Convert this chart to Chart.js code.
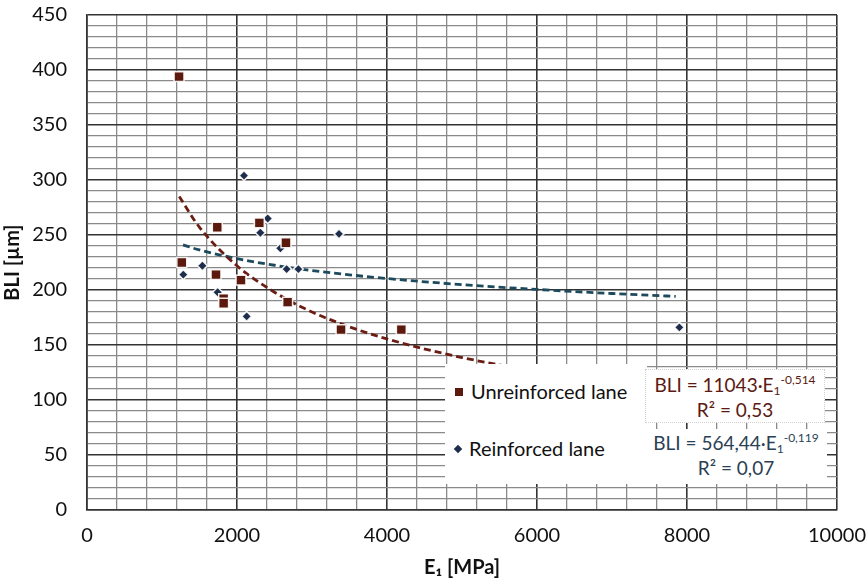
<!DOCTYPE html>
<html>
<head>
<meta charset="utf-8">
<script src="https://cdn.jsdelivr.net/npm/chart.js@4"></script>
<style>
    body { margin: 0; background: #fff; }
    #wrap { position: relative; width: 868px; height: 584px; font-family: Lato, "Open Sans", sans-serif; }
    #chart { position: absolute; left: 0; top: 0; }
    .box { position: absolute; background: #fff; }
    .leg { position: absolute; left: 10px; font-size: 20px; color: #111; white-space: nowrap; }
    .mk { display: inline-block; vertical-align: middle; margin-right: 8px; position: relative; top: -2px; }
    .eq { text-align: center; font-size: 19px; line-height: 25px; white-space: nowrap; }
    .eq sub { font-size: 12px; vertical-align: -3px; line-height: 0; }
    .eq sup { font-size: 12px; vertical-align: 8px; line-height: 0; }
</style>
</head>
<body>
<div id="wrap">
    <canvas id="chart" width="868" height="584"></canvas>

    <div class="box" style="left:445px; top:364px; width:202px; height:120px;">
        <div class="leg" style="top:15px;"><span class="mk" style="width:8px;height:8px;background:#5c1a0e;"></span>Unreinforced lane</div>
        <div class="leg" style="top:72px;"><span class="mk" style="width:6px;height:6px;background:#1e2d4b;transform:rotate(45deg);"></span>Reinforced lane</div>
    </div>
    <div class="box eq" style="left:645px; top:369px; width:180px; height:54px; color:#5c1a12; border:1px dotted #d0d0d0; box-sizing:border-box; padding-top:2px;">
        BLI = 11043·E<sub>1</sub><sup>-0,514</sup><br>R² = 0,53
    </div>
    <div class="box eq" style="left:645px; top:429px; width:182px; height:55px; color:#2b3f55; padding-top:1px; box-sizing:border-box;">
        BLI = 564,44·E<sub>1</sub><sup>-0,119</sup><br>R² = 0,07
    </div>
</div>

<script>
// measured points (E1 in MPa, BLI in µm)
const unreinforcedE1 = [1227, 1264, 1737, 2298, 2653, 1720, 2053, 1822, 1822, 2675, 3387, 4191];
const unreinforcedBLI = [394, 225, 257, 261, 243, 214, 209, 192, 188, 189, 164, 164];

const reinforcedE1 = [2093, 2409, 2311, 3360, 2578, 1538, 1284, 2662, 2818, 1742, 2129, 7898];
const reinforcedBLI = [304, 265, 252, 251, 238, 222, 214, 219, 219, 198, 176, 166];

// power trend lines
const trendUnrE1 = [1230, 1500, 2000, 2500, 3000, 3500, 4000, 5000, 6000, 7000, 7900];
const trendUnrBLI = [285, 257, 222, 198, 180, 166.5, 155.5, 138.6, 126.2, 116.6, 109.6];
const trendReiE1 = [1280, 1500, 2000, 2500, 3000, 3500, 4000, 5000, 6000, 7000, 7850];
const trendReiBLI = [241, 236.4, 228.5, 222.5, 217.7, 213.8, 210.4, 204.9, 200.5, 196.8, 194.2];

const xTickLabels = [0, 2000, 4000, 6000, 8000, 10000];
const yTickLabels = [0, 50, 100, 150, 200, 250, 300, 350, 400, 450];

const UNR_COLOR = "#5c1a0e";
const REI_COLOR = "#1e2d4b";

function toPoints(xs, ys) {
    return xs.map((x, i) => ({ x: x, y: ys[i] }));
}

function isMajor(value, list) {
    return list.includes(Math.round(value));
}

const tickFont = { family: "Lato", size: 20 };
const titleFont = { family: "Lato", size: 20, weight: "bold" };

new Chart(document.getElementById("chart"), {
    type: "scatter",
    data: {
        datasets: [
            {
                label: "Unreinforced trend",
                type: "line",
                data: toPoints(trendUnrE1, trendUnrBLI),
                borderColor: "#6b1d14",
                borderWidth: 2.8,
                borderDash: [7, 4],
                pointRadius: 0,
                cubicInterpolationMode: "monotone",
                order: 3
            },
            {
                label: "Reinforced trend",
                type: "line",
                data: toPoints(trendReiE1, trendReiBLI),
                borderColor: "#1d4a5c",
                borderWidth: 2.8,
                borderDash: [7, 4],
                pointRadius: 0,
                cubicInterpolationMode: "monotone",
                order: 3
            },
            {
                label: "Unreinforced lane",
                data: toPoints(unreinforcedE1, unreinforcedBLI),
                pointStyle: "rect",
                pointRadius: 7,
                backgroundColor: UNR_COLOR,
                borderColor: "rgba(255,255,255,0.9)",
                borderWidth: 1.5,
                order: 1
            },
            {
                label: "Reinforced lane",
                data: toPoints(reinforcedE1, reinforcedBLI),
                pointStyle: "rectRot",
                pointRadius: 5,
                backgroundColor: REI_COLOR,
                borderColor: "rgba(255,255,255,0.9)",
                borderWidth: 1.5,
                order: 2
            }
        ]
    },
    options: {
        responsive: false,
        animation: false,
        devicePixelRatio: 1,
        layout: { padding: { top: 15, right: 31, left: 0, bottom: 0 } },
        plugins: {
            legend: { display: false },
            tooltip: { enabled: false }
        },
        scales: {
            x: {
                type: "linear",
                min: 0,
                max: 10000,
                afterFit: (scale) => {
                    scale.height = 74;
                    scale.paddingLeft = 0;
                    scale.paddingRight = 0;
                },
                ticks: {
                    stepSize: 400,
                    autoSkip: false,
                    maxRotation: 0,
                    padding: 14,
                    color: "#111",
                    font: tickFont,
                    callback: (v) => isMajor(v, xTickLabels) ? String(Math.round(v)) : ""
                },
                grid: {
                    drawTicks: false,
                    color: (ctx) => isMajor(ctx.tick.value, xTickLabels) ? "#333" : "#8a8a8a",
                    lineWidth: (ctx) => isMajor(ctx.tick.value, xTickLabels) ? 1.6 : 1.3
                },
                border: { color: "#333", width: 1.6 },
                title: {
                    display: true,
                    text: "E₁ [MPa]",
                    color: "#111",
                    font: titleFont,
                    padding: { top: 0, bottom: 4 }
                }
            },
            y: {
                min: 0,
                max: 450,
                afterFit: (scale) => {
                    scale.width = 87;
                    scale.paddingTop = 0;
                    scale.paddingBottom = 0;
                },
                ticks: {
                    stepSize: 10,
                    autoSkip: false,
                    padding: 20,
                    color: "#111",
                    font: tickFont,
                    callback: (v) => isMajor(v, yTickLabels) ? String(Math.round(v)) : ""
                },
                grid: {
                    drawTicks: false,
                    color: (ctx) => isMajor(ctx.tick.value, yTickLabels) ? "#333" : "#8a8a8a",
                    lineWidth: (ctx) => isMajor(ctx.tick.value, yTickLabels) ? 1.6 : 1.3
                },
                border: { color: "#333", width: 1.6 },
                title: {
                    display: true,
                    text: "BLI [µm]",
                    color: "#111",
                    font: titleFont,
                    padding: { top: 1, bottom: 0 }
                }
            }
        }
    }
});
</script>
</body>
</html>
